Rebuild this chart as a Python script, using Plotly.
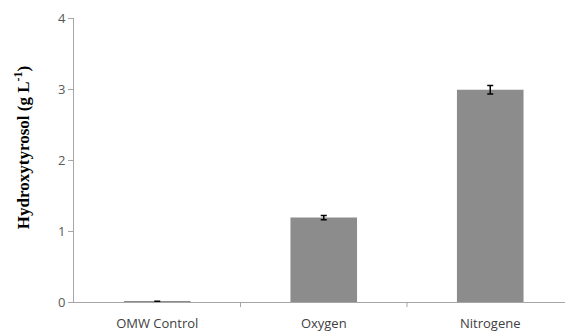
import plotly.graph_objects as go

categories = ["OMW Control", "Oxygen", "Nitrogene"]
values = [0.01, 1.19, 2.99]
errors = [0.0, 0.03, 0.06]
y_ticks = [0, 1, 2, 3, 4]
y_title = "<b>Hydroxytyrosol (g L<sup>-1</sup>)</b>"

fig = go.Figure()
fig.add_trace(go.Bar(
    x=categories, y=values,
    width=0.4,
    marker=dict(color="#8c8c8c", line=dict(width=0)),
    error_y=dict(type="data", array=errors, visible=True, color="#000000",
                 thickness=1.5, width=3),
))

fig.update_layout(
    width=565, height=334,
    margin=dict(l=74, r=0, t=18, b=32),
    paper_bgcolor="white", plot_bgcolor="white",
    showlegend=False,
    font=dict(family="Open Sans, Liberation Sans, sans-serif", color="#595959", size=11),
)
fig.update_xaxes(
    range=[-0.5, 2.449],
    showline=True, linecolor="#a6a6a6", linewidth=1,
    ticks="", showgrid=False,
    ticklabelstandoff=9,
    tickfont=dict(size=13, color="#404040"),
)
fig.update_yaxes(
    range=[0, 4], tickvals=y_ticks,
    showline=True, linecolor="#a6a6a6", linewidth=1,
    ticks="outside", ticklen=5, tickcolor="#a6a6a6",
    showgrid=False, zeroline=False,
    tickfont=dict(size=13, color="#595959"),
)
fig.add_annotation(
    text=y_title, textangle=-90, showarrow=False,
    xref="paper", yref="paper", x=-0.106, y=0.545,
    xanchor="center", yanchor="middle",
    font=dict(family="Liberation Serif, Times New Roman, serif", size=17, color="#000000"),
)
# category divider ticks
for xv in [0.5, 1.5]:
    fig.add_shape(type="line", xref="x", yref="paper", x0=xv, x1=xv, y0=0, y1=-0.018,
                  line=dict(color="#a6a6a6", width=1))
fig.write_html("out.html", config={"displayModeBar": False},
               post_script="document.body.style.margin='0';document.body.style.overflow='hidden';")
